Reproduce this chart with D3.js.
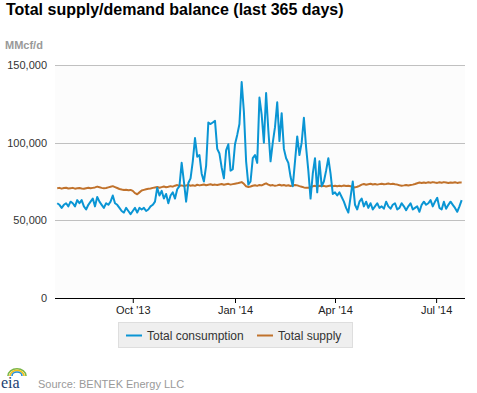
<!DOCTYPE html>
<html>
<head>
<meta charset="utf-8">
<script src="https://cdn.jsdelivr.net/npm/d3@7"></script>
<style>
  html, body { margin: 0; padding: 0; background: #fff; }
  svg { display: block; font-family: "Liberation Sans", Arial, sans-serif; }
</style>
</head>
<body>
<svg id="chart" width="477" height="393"></svg>
<script>
// ---- Data (MMcf/d), one value every 2 days starting 25 Jul 2013 ----
const seriesStart = "2013-07-25";
const stepDays = 2;
const consumption = [
61000,60000,58000,60000,61000,59000,62000,61000,59000,63000,
61000,63000,59000,57000,60000,62000,64000,59000,65000,62000,
60000,58000,61000,60000,62000,66000,61000,60000,58000,56000,
55000,58000,56000,54000,56000,58000,55000,58000,57000,58000,
56000,57000,59000,60000,62000,71000,66000,69000,64000,67000,
61000,66000,68000,64000,70000,72000,87000,75000,62000,74000,
77000,88000,103000,91000,92000,80000,75000,85000,113000,112000,
113000,114000,96000,93000,84000,77000,95000,99000,82000,83000,
99000,105000,112000,139000,120000,88000,73000,75000,90000,92000,
87000,129000,118000,100000,132000,108000,88000,100000,110000,126000,
101000,119000,96000,90000,87000,78000,72000,88000,104000,92000,
100000,116000,97000,82000,64000,80000,90000,68000,88000,72000,
75000,82000,90000,80000,67000,68000,66000,68000,65000,62000,
58000,55000,65000,75000,60000,57000,62000,64000,59000,62000,
58000,61000,57000,59000,61000,58000,59000,57500,62000,59000,
57500,60000,61000,57000,58000,61000,59000,56500,59000,61000,
57000,58000,59000,55500,60000,62000,60000,61000,63000,59000,
62000,64500,58000,57000,62000,57500,60000,62000,60000,58000,
55500,59000,63000
];
const supply = [
70600,70900,70400,70800,71000,70500,70700,70900,70400,70600,70800,
70500,70300,70700,71000,70600,70900,71200,71700,71300,70900,
70600,70800,71200,71600,72000,71400,70800,70200,69800,69500,
69700,69400,69600,69000,67500,66800,68000,69200,69600,70000,
70300,70500,70900,71200,71500,71000,71400,71800,71300,71600,
72000,71700,72300,72700,72200,72500,72000,72400,72800,72300,
72600,72200,72900,72500,72800,73100,72600,72900,73200,72800,
73000,72700,73100,73400,72900,73200,73500,73000,73300,73600,
73800,74200,74600,73500,71900,71500,71800,72300,72600,72200,
72800,72500,73200,73800,73000,72400,72700,72200,72500,72900,
72400,72700,72300,72600,72100,72400,72800,72500,72000,71600,
71200,70900,71000,71400,71900,72200,71800,72300,72000,72200,
71800,72100,72400,72000,72300,71900,72200,72000,72400,72100,
72300,71900,71500,71200,71600,72200,73000,73400,72900,73200,
73500,73100,73400,73000,73300,73600,73200,73400,73700,73300,
73600,73200,73000,72600,72300,72500,72800,72400,72700,73000,
73400,73900,74300,74000,74400,74100,74500,74200,74600,74300,
74100,74500,74200,74600,74300,74000,74400,74200,74500,74100,74400,74300
];
const seriesNames = ["Total consumption", "Total supply"];
const seriesColors = ["#0a95d4", "#c0722c"];
const xTickDates = ["2013-10-01", "2014-01-01", "2014-04-01", "2014-07-01"];
const xTickLabels = ["Oct '13", "Jan '14", "Apr '14", "Jul '14"];
const yTicks = [0, 50000, 100000, 150000];
const titleText = "Total supply/demand balance (last 365 days)";
const unitText = "MMcf/d";
const sourceText = "Source: BENTEK Energy LLC";

// ---- Build ----
(function () {
const parse = d3.timeParse("%Y-%m-%d");
const start = parse(seriesStart);
const dates = consumption.map((_, i) => d3.timeDay.offset(start, i * stepDays));
const rows = dates.map((d, i) => ({ date: d, c: consumption[i], s: supply[i] }));

const svg = d3.select("#chart");
const pl = 55, pr = 465, pt = 65, pb = 298;

const x = d3.scaleTime()
  .domain([parse("2013-07-23"), parse("2014-07-27")])
  .range([pl, pr]);
const y = d3.scaleLinear().domain([0, 150000]).range([pb, pt]);

// plot background
svg.append("rect").attr("x", pl).attr("y", pt)
  .attr("width", pr - pl).attr("height", pb - pt)
  .attr("fill", "#fcfcfc");

// title & unit
svg.append("text").attr("x", 6).attr("y", 15)
  .attr("font-size", 16).attr("font-weight", "bold").attr("fill", "#000")
  .text(titleText);
svg.append("text").attr("x", 5).attr("y", 49)
  .attr("font-size", 11).attr("font-weight", "bold").attr("fill", "#999")
  .text(unitText);

// y axis grid + labels
const yAxis = d3.axisLeft(y).tickValues(yTicks)
  .tickSize(-(pr - pl)).tickPadding(8)
  .tickFormat(d3.format(","));
const gy = svg.append("g").attr("transform", `translate(${pl},0)`).call(yAxis);
gy.select(".domain").remove();
gy.selectAll(".tick line").attr("stroke", "#c0c0c0").attr("shape-rendering", "crispEdges");
gy.selectAll(".tick text").attr("font-size", 11).attr("fill", "#333")
  .attr("font-family", "'Liberation Sans', Arial, sans-serif");

// lines
const lineC = d3.line().x(d => x(d.date)).y(d => y(d.c));
const lineS = d3.line().x(d => x(d.date)).y(d => y(d.s));
svg.append("path").datum(rows).attr("d", lineS)
  .attr("fill", "none").attr("stroke", seriesColors[1]).attr("stroke-width", 2)
  .attr("stroke-linejoin", "round");
svg.append("path").datum(rows).attr("d", lineC)
  .attr("fill", "none").attr("stroke", seriesColors[0]).attr("stroke-width", 2)
  .attr("stroke-linejoin", "round");

// x axis
const xAxis = d3.axisBottom(x)
  .tickValues(xTickDates.map(parse))
  .tickSize(5).tickPadding(3)
  .tickFormat((d, i) => xTickLabels[i]);
const gx = svg.append("g").attr("transform", `translate(0,${pb})`).call(xAxis);
gx.select(".domain").attr("stroke", "#000").attr("d", `M${pl},0.5H${pr}`);
gx.selectAll(".tick line").attr("stroke", "#000");
gx.selectAll(".tick text").attr("font-size", 11).attr("fill", "#222")
  .attr("font-family", "'Liberation Sans', Arial, sans-serif");

// legend
const lg = svg.append("g");
lg.append("rect").attr("x", 118.5).attr("y", 322.5).attr("width", 234).attr("height", 25)
  .attr("fill", "#efefef").attr("stroke", "#dedede");
const legendX = [126, 257];
seriesNames.forEach((name, i) => {
  lg.append("line").attr("x1", legendX[i]).attr("x2", legendX[i] + 16)
    .attr("y1", 335.5).attr("y2", 335.5)
    .attr("stroke", seriesColors[i]).attr("stroke-width", 2);
  lg.append("text").attr("x", legendX[i] + 21).attr("y", 339.5)
    .attr("font-size", 12).attr("fill", "#333").text(name);
});

// eia logo
const logo = svg.append("g");
const arc = (r, color) => logo.append("path")
  .attr("d", `M${12 - r},${383} A${r},${r * 0.8} 0 0 1 ${12 + r},${383}`)
  .attr("fill", "none").attr("stroke", color).attr("stroke-width", 1.6)
  .attr("transform", "translate(5,-7)");
arc(9, "#7ab648");
arc(7, "#f2c118");
arc(5, "#2a8fd0");
logo.append("text").attr("x", 1).attr("y", 388)
  .attr("font-family", "'Liberation Serif', 'DejaVu Serif', serif")
  .attr("font-size", 16).attr("fill", "#1b3f73").text("eia");

// source
svg.append("text").attr("x", 38).attr("y", 388)
  .attr("font-size", 11).attr("fill", "#999").text(sourceText);
})();
</script>
</body>
</html>
